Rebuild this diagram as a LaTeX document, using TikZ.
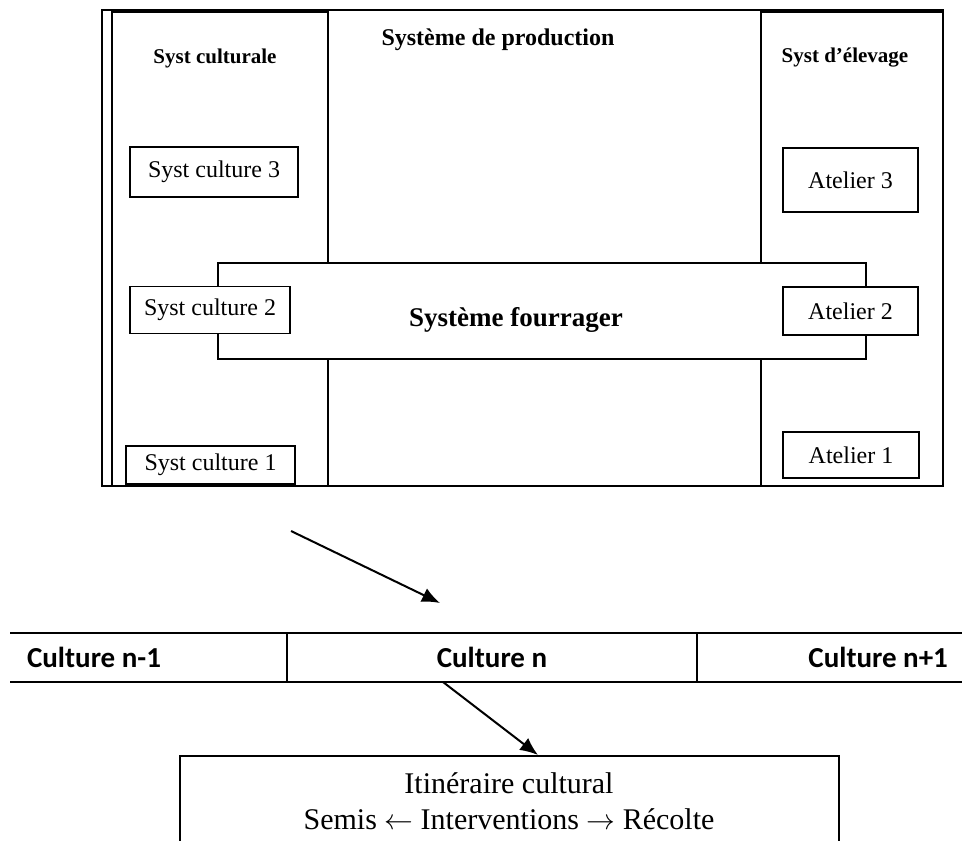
\documentclass[tikz,border=0pt]{standalone}
\usepackage{fontspec}
\setmainfont{Liberation Serif}
\newfontfamily\tabfont{Carlito}
\usetikzlibrary{arrows.meta}

\begin{document}
\begin{tikzpicture}[x=0.5pt,y=-0.5pt,font=\fontsize{12}{14}\selectfont,
  bx/.style={draw,fill=white,line width=0.8pt,inner sep=0pt},
  hd/.style={font=\fontsize{10.5}{12}\selectfont\bfseries},
  cl/.style={font=\tabfont\fontsize{14.5}{16}\selectfont\bfseries},
  ln/.style={line width=1pt},
  ar/.style={-{Latex[length=9pt,width=7.5pt]},line width=1pt}]
\clip (0,0) rectangle (962,840);
\fill[white] (0,0) rectangle (962,840);
% systeme de production
\node[bx,minimum width=420.5pt,minimum height=238pt] (prod) at (522.5,248) {};
\node[bx,minimum width=108pt,minimum height=237pt] (cult) at (220,249) {};
\node[bx,minimum width=91pt,minimum height=237pt] (elev) at (852,249) {};
\node[font=\fontsize{12}{14}\selectfont\bfseries] (prodt) at (498,40) {Système de production};
\node[hd] (cultt) at (215,58) {Syst culturale};
\node[hd] (elevt) at (845,58) {Syst d’élevage};
\node[bx,minimum width=84pt,minimum height=25pt] (sc3) at (214,172) {Syst culture 3};
\node[bx,minimum width=84.5pt,minimum height=19pt] (sc1) at (210.5,465) {Syst culture 1};
\node[bx,minimum width=67.5pt,minimum height=32pt] (at3) at (850.5,180) {Atelier 3};
\node[bx,minimum width=68pt,minimum height=23pt] (at1) at (851,455) {Atelier 1};
% systeme fourrager (par-dessus)
\node[bx,minimum width=324pt,minimum height=48pt] (four) at (542,311) {};
\node[font=\fontsize{13.5}{15}\selectfont\bfseries] (fourt) at (516,320) {Système fourrager};
\node[bx,minimum width=80pt,minimum height=23.5pt] (sc2) at (210,310) {Syst culture 2};
\node[bx,minimum width=67.5pt,minimum height=24pt] (at2) at (850.5,311) {Atelier 2};
% vers les cultures
\coordinate (a1) at (291,531);
\coordinate (a2) at (440,603);
\draw[ar] (a1) -- (a2);
% succession
\coordinate (t1) at (10,633);
\coordinate (t2) at (962,633);
\coordinate (t3) at (10,682);
\coordinate (t4) at (962,682);
\draw[ln] (t1) -- (t2);
\draw[ln] (t3) -- (t4);
\draw[ln] (287,633) -- (287,682);
\draw[ln] (697,633) -- (697,682);
\node[cl,anchor=base west] (cn1) at (20,667) {Culture n-1};
\node[cl,anchor=base] (cn) at (492,667) {Culture n};
\node[cl,anchor=base east] (cn2) at (955,667) {Culture n+1};
\coordinate (b1) at (443,682);
\coordinate (b2) at (538,755);
\draw[ar] (b1) -- (b2);
% itineraire
\node[bx,anchor=north,minimum width=329.5pt,minimum height=60pt] (itinbox) at (509.5,755) {};
\node[font=\fontsize{15}{18}\selectfont,align=center] (itin) at (509,801)
  {Itinéraire cultural\\Semis $\leftarrow$ Interventions $\rightarrow$ Récolte};
\end{tikzpicture}
\end{document}
